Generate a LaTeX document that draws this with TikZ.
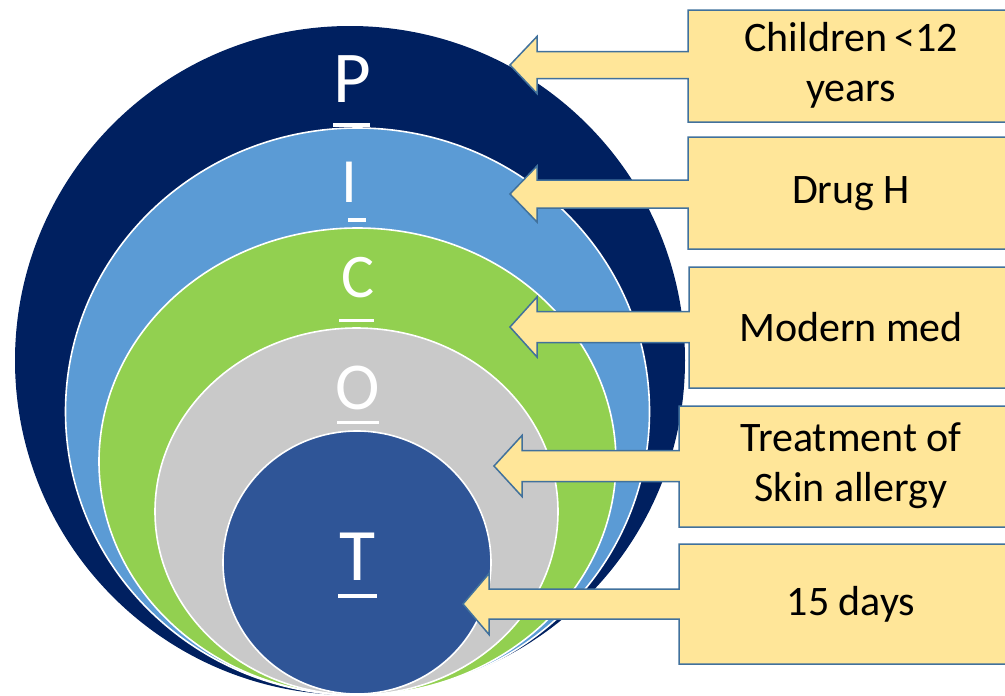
\documentclass[tikz,border=0pt]{standalone}
\usepackage{fontspec}
\setmainfont{Carlito}

\definecolor{picoP}{HTML}{002060}
\definecolor{picoI}{HTML}{5B9BD5}
\definecolor{picoC}{HTML}{92D050}
\definecolor{picoO}{HTML}{C9C9C9}
\definecolor{picoT}{HTML}{2F5597}
\definecolor{calloutfill}{HTML}{FFE699}
\definecolor{calloutline}{HTML}{41719C}

\tikzset{
  ring/.style={draw=white, line width=1.6pt},
  letter/.style={text=white, anchor=base, inner sep=0pt},
  callout/.style={fill=calloutfill, draw=calloutline, line width=1.5pt, line join=miter},
  calloutlabel/.style={align=center, inner sep=0pt, font=\fontsize{42}{50}\selectfont}
}

\begin{document}
\begin{tikzpicture}[x=1pt, y=-1pt]
    \useasboundingbox (0,0) rectangle (1005,696);
    \clip (0,0) rectangle (1005,696);

    \fill[picoP] (350,360.5) ellipse [x radius=335pt, y radius=334.5pt];
    \foreach \cx/\cy/\rx/\ry/\col in {357.5/411.5/292/283.5/picoI,
        357.5/461.5/258.5/233.5/picoC, 356.5/511.5/201.5/183.5/picoO,
        357/562.5/134/131.5/picoT} {
      \filldraw[ring, fill=\col] (\cx,\cy) ellipse [x radius=\rx pt, y radius=\ry pt];
    }

    \foreach \lx/\ly/\sz/\ltr in {352/102/73/P, 349/202/63/I, 358/297/62/C,
        358/409/67/O, 358/580/74/T} {
      \node[letter, font=\fontsize{\sz}{\sz}\selectfont] (letter\ltr) at (\lx,\ly) {\ltr};
    }
    \draw[white, line width=3.5pt]
      (333,125)--(370,125)
      (348,220)--(366,220)
      (339,320.5)--(374,320.5)
      (337,422.5)--(379,422.5)
      (338,596)--(377,596)
    ;

    \foreach \tx/\ty/\hb/\hw/\sw/\lft/\yt/\yb/\txt [count=\i] in {
        510/65/537/28.5/13.5/688/10/122/{Children\,<12\\years},
        510/194/537/28/14/688/137/249/{Drug H},
        510/327/537/30/15.5/689/267/388/{Modern med},
        494/466/522/30.5/15.5/679/406/527/{Treatment of\\Skin allergy},
        463/604/489/30.5/15/679/544/664/{15 days}} {
      \draw[callout] (\tx,\ty) -- (\hb,\ty-\hw) -- (\hb,\ty-\sw) -- (\lft,\ty-\sw)
        -- (\lft,\yt) -- (1030,\yt) -- (1030,\yb) -- (\lft,\yb) -- (\lft,\ty+\sw)
        -- (\hb,\ty+\sw) -- (\hb,\ty+\hw) -- cycle;
      \node[calloutlabel] (box\i) at (851,\ty) {\txt};
    }
\end{tikzpicture}
\end{document}
